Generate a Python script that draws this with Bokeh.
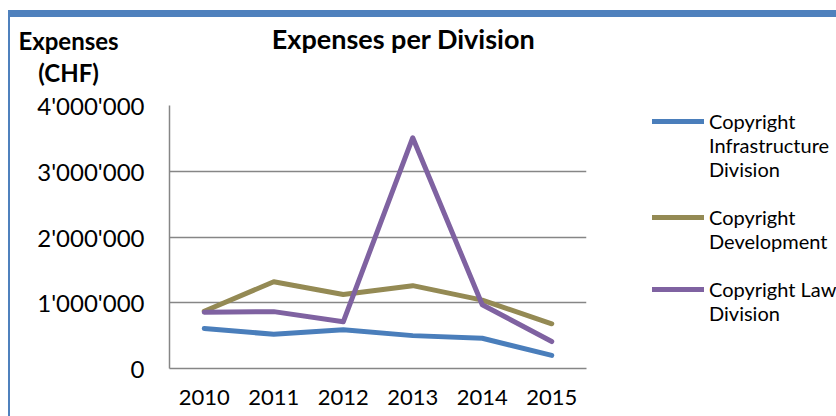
from bokeh.plotting import figure
from bokeh.models import FixedTicker, Label, Legend, LegendItem
from bokeh.embed import file_html
from bokeh.resources import INLINE

years = ["2010", "2011", "2012", "2013", "2014", "2015"]
infrastructure = [610000, 520000, 590000, 500000, 460000, 200000]
development = [870000, 1320000, 1125000, 1260000, 1040000, 680000]
law = [855000, 865000, 710000, 3510000, 970000, 410000]
series_names = ["Copyright\nInfrastructure\nDivision", "Copyright\nDevelopment", "Copyright Law\nDivision"]
series_colors = ["#4A7EBB", "#948A54", "#7F62A1"]
y_ticks = [0, 1000000, 2000000, 3000000, 4000000]
y_tick_labels = ["0", "1'000'000", "2'000'000", "3'000'000", "4'000'000"]
title_text = "Expenses per Division"
y_title = "Expenses\n(CHF)"

FONT = "Lato"
GRID = "#868686"
FRAME_BLUE = "#4F81BD"

p = figure(x_range=years, y_range=(0, 4000000), frame_width=417, frame_height=263, title=None,
           output_backend="svg", toolbar_location=None,
           min_border_left=169, min_border_right=250, min_border_top=105, min_border_bottom=48)
p.x_range.range_padding = 0
p.outline_line_color = None
p.background_fill_color = "white"
p.border_fill_color = None
p.styles = {
    "background-color": "white",
    "background-image": f"linear-gradient({FRAME_BLUE}, {FRAME_BLUE}), linear-gradient({FRAME_BLUE}, {FRAME_BLUE})",
    "background-position": "8px 10px, 8px 10px",
    "background-size": "828px 7px, 2px 406px",
    "background-repeat": "no-repeat",
}

p.yaxis.ticker = FixedTicker(ticks=y_ticks)
p.yaxis.major_label_overrides = {t: l for t, l in zip(y_ticks, y_tick_labels)}
for ax in (p.xaxis, p.yaxis):
    ax.major_tick_line_color = None
    ax.minor_tick_line_color = None
    ax.major_tick_out = 0
    ax.major_tick_in = 0
    ax.axis_line_color = GRID
    ax.axis_line_width = 1.5
    ax.major_label_text_font = FONT
    ax.major_label_text_color = "black"
p.yaxis.major_label_text_font_size = "24px"
p.yaxis.major_label_standoff = 25
p.xaxis.major_label_text_font_size = "22px"
p.xaxis.major_label_standoff = 21

p.xgrid.grid_line_color = None
p.ygrid.grid_line_color = GRID
p.ygrid.grid_line_width = 1.5

renderers = []
for vals, col in zip([infrastructure, development, law], series_colors):
    r = p.line(years, vals, line_color=col, line_width=5, line_cap="round", line_join="round")
    renderers.append(r)

# legend entries: leading blank lines put the glyph beside the first line of each name
legend_labels = ["\n\n" + series_names[0], "\n" + series_names[1], "\n" + series_names[2]]
legend = Legend(items=[LegendItem(label=n, renderers=[r]) for n, r in zip(legend_labels, renderers)],
                location=(66, 43), glyph_width=52, glyph_height=20, label_standoff=5,
                padding=0, margin=0, spacing=0, border_line_color=None, background_fill_alpha=0,
                label_text_font=FONT, label_text_font_size="20px", label_text_color="black",
                label_height=20)
p.add_layout(legend, "right")

# chart title and value-axis title, in the panel above the plot area
p.add_layout(Label(x=3.367, y=5019000, text=title_text, text_color="black",
                   text_align="center", text_baseline="middle", text_font=FONT,
                   text_font_size="27px", text_font_style="bold"), "above")
p.add_layout(Label(x=-1.453, y=4750000, text=y_title, text_color="black",
                   text_align="center", text_baseline="middle", text_font=FONT,
                   text_font_size="24px", text_font_style="bold", text_line_height=1.1), "above")

open("out.html", "w").write(file_html(p, INLINE))
